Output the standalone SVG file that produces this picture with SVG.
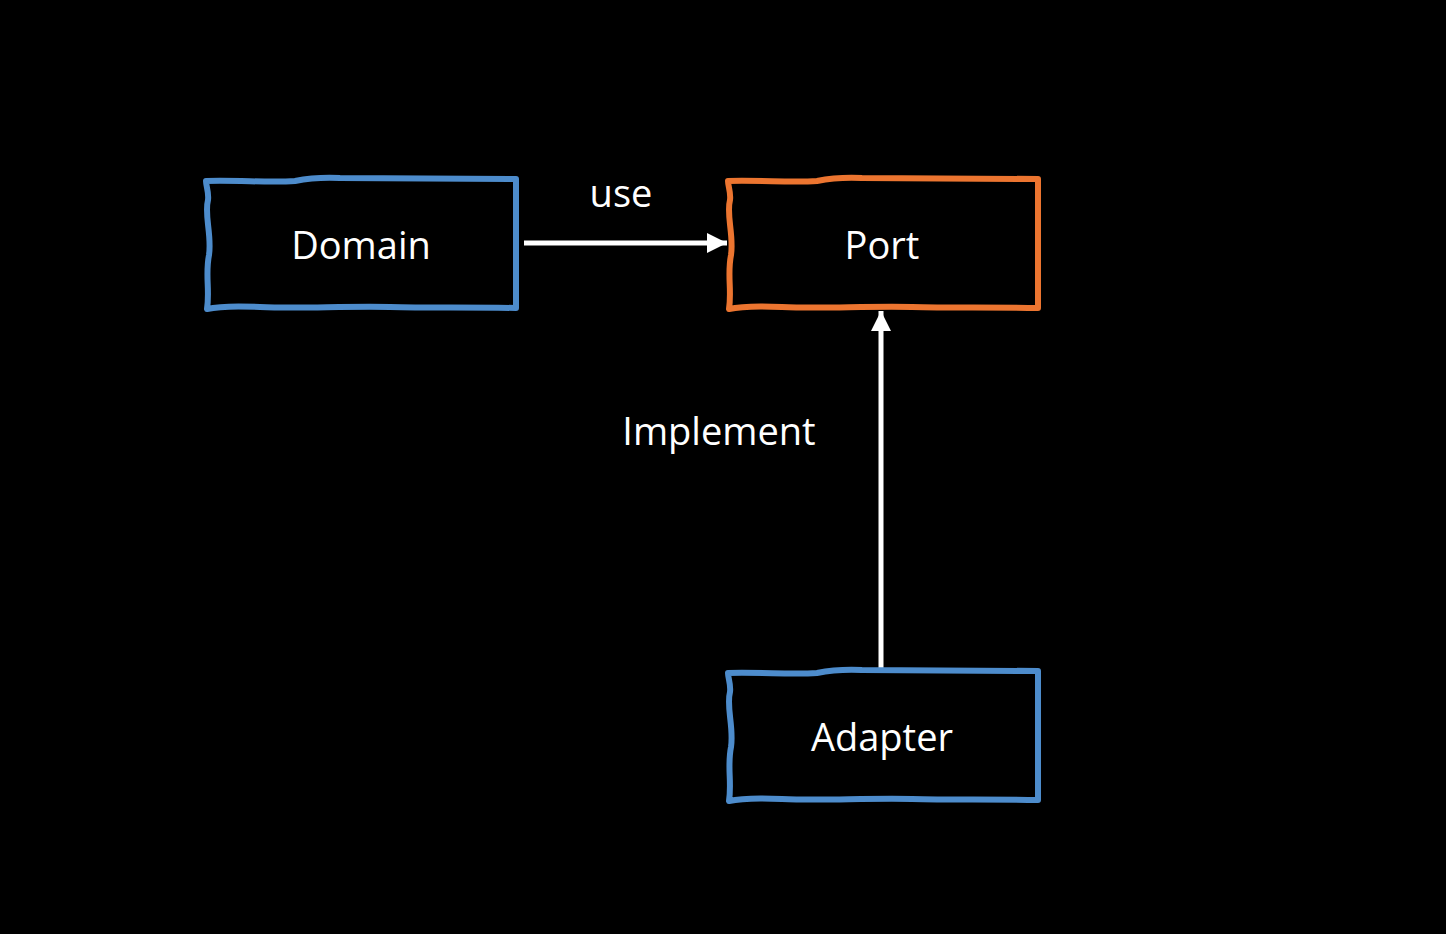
<svg xmlns="http://www.w3.org/2000/svg" width="1446" height="934" viewBox="0 0 1446 934">
<defs>
<style>
.box{fill:#000;stroke-width:6;stroke-linejoin:round}
.blue{stroke:#4d8ccc}
.orange{stroke:#ec7530}
.lbl{font-family:"Open Sans","Liberation Sans",sans-serif;font-size:38px;fill:#fff;text-anchor:middle}
.conn{stroke:#fff;stroke-width:5;fill:none}
</style>
<marker id="ah" viewBox="0 0 10 10" refX="10" refY="5" markerWidth="4" markerHeight="4" markerUnits="strokeWidth" orient="auto">
<path d="M0,0 L10,5 L0,10 Z" fill="#fff"/>
</marker>
<path id="sk" d="M0,2 C34,1 64,4 89,2 C104,-1 114,-2 134,-1 L310,0 L310,129 C264,128 224,129 184,128 C134,127 94,130 54,128 C34,127 14,127 1,130 C4,111 -1,96 3,76 C6,56 -2,36 2,21 C3,13 0,7 0,2 Z"/>
</defs>
<rect width="1446" height="934" fill="#000"/>
<g id="connectors">
<line class="conn" x1="524" y1="243" x2="727" y2="243" marker-end="url(#ah)"/>
<line class="conn" x1="881" y1="670" x2="881" y2="311" marker-end="url(#ah)"/>
<text class="lbl" x="621" y="207">use</text>
<text class="lbl" x="719" y="445">Implement</text>
</g>
<g id="domain">
<use href="#sk" class="box blue" x="206" y="179"/>
<text class="lbl" x="361" y="259">Domain</text>
</g>
<g id="port">
<use href="#sk" class="box orange" x="728" y="179"/>
<text class="lbl" x="882" y="259">Port</text>
</g>
<g id="adapter">
<use href="#sk" class="box blue" x="728" y="671"/>
<text class="lbl" x="882" y="751">Adapter</text>
</g>
</svg>
